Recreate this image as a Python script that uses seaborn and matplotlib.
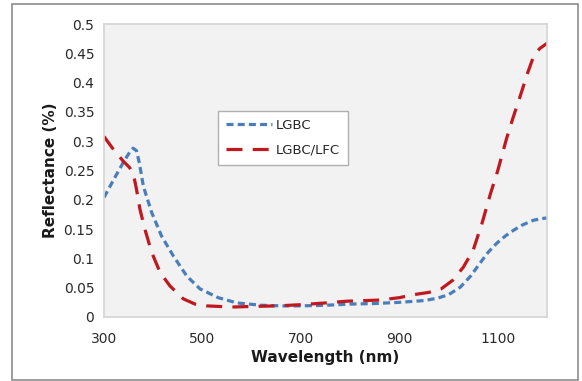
import matplotlib
matplotlib.use("Agg")
import matplotlib.pyplot as plt
import seaborn as sns
import pandas as pd
from matplotlib.patches import Rectangle

lgbc_wl = [300, 320, 340, 352, 359, 366, 372, 380, 397, 417, 441, 468, 495, 532, 570,
           620, 660, 700, 750, 800, 850, 900, 950, 977, 1000, 1024, 1045, 1064,
           1080, 1098, 1115, 1132, 1150, 1172, 1190, 1200]
lgbc_val = [0.204, 0.235, 0.265, 0.281, 0.288, 0.284, 0.262, 0.223, 0.178, 0.138,
            0.104, 0.070, 0.048, 0.033, 0.024, 0.02, 0.019, 0.019, 0.02, 0.022,
            0.023, 0.025, 0.028, 0.032, 0.038, 0.051, 0.07, 0.092, 0.11, 0.126,
            0.138, 0.148, 0.157, 0.165, 0.168, 0.169]

lfc_wl = [300, 320, 339, 352, 360, 366, 373, 383, 397, 414, 434, 461, 485, 508,
          560, 600, 653, 700, 750, 794, 830, 861, 900, 928, 960, 985, 1009, 1030,
          1050, 1068, 1085, 1100, 1118, 1131, 1146, 1160, 1172, 1185, 1200]
lfc_val = [0.308, 0.285, 0.266, 0.255, 0.243, 0.218, 0.184, 0.150, 0.110, 0.076,
           0.053, 0.031, 0.022, 0.019, 0.017, 0.018, 0.019, 0.021, 0.024, 0.027,
           0.028, 0.029, 0.033, 0.038, 0.042, 0.048, 0.063, 0.085, 0.114, 0.16,
           0.21, 0.25, 0.305, 0.34, 0.378, 0.415, 0.443, 0.458, 0.467]

series_names = ["LGBC", "LGBC/LFC"]
x_ticks = [300, 500, 700, 900, 1100]
y_ticks = [0, 0.05, 0.1, 0.15, 0.2, 0.25, 0.3, 0.35, 0.4, 0.45, 0.5]

df = pd.concat([
    pd.DataFrame({"wl": lgbc_wl, "val": lgbc_val, "series": series_names[0]}),
    pd.DataFrame({"wl": lfc_wl, "val": lfc_val, "series": series_names[1]}),
], ignore_index=True)

sns.set_style("white")
plt.rcParams["font.family"] = ["DejaVu Sans"]

fig = plt.figure(figsize=(5.82, 3.81), dpi=100)
fig.patch.set_facecolor("white")
fig.add_artist(Rectangle((12 / 582, 1 - 380 / 381), 566 / 582, 376 / 381,
                         transform=fig.transFigure, fill=False,
                         edgecolor="#8c8c8c", linewidth=1.2))

ax = fig.add_axes([104 / 582, 1 - 317 / 381, 443 / 582, 293 / 381])
ax.set_facecolor("#f2f2f2")

sns.lineplot(data=df, x="wl", y="val", hue="series", style="series",
             palette={"LGBC": "#4a7ebb", "LGBC/LFC": "#c0181e"},
             dashes={"LGBC": (2.2, 1.3), "LGBC/LFC": (5, 3.2)},
             linewidth=2.3, ax=ax, sort=True)

ax.set_xlim(300, 1200)
ax.set_ylim(0, 0.5)
ax.set_xticks(x_ticks)
ax.set_yticks(y_ticks)
ax.set_yticklabels([f"{v:g}" for v in y_ticks])
ax.set_xticklabels([str(v) for v in x_ticks])
ax.tick_params(axis="both", labelsize=10, colors="#d0d0d0", labelcolor="#2a2a2a",
               length=4, width=1, direction="out", pad=3)
ax.tick_params(axis="x", pad=7)
for s in ax.spines.values():
    s.set_color("#d4d4d4")
    s.set_linewidth(1.2)

ax.set_xlabel("Wavelength (nm)", fontsize=11, fontweight="bold", color="#1a1a1a", labelpad=3)
ax.set_ylabel("Reflectance (%)", fontsize=11, fontweight="bold", color="#1a1a1a", labelpad=4)

leg = ax.legend(loc="upper left", bbox_to_anchor=((218 - 104) / 443, 1 - (111 - 24) / 293),
                borderaxespad=0, fontsize=9.5, handlelength=3.5, labelspacing=0.9,
                handletextpad=0.3, borderpad=0.6, fancybox=False, framealpha=1,
                edgecolor="#b0b0b0", title=None)
leg.get_frame().set_linewidth(1.0)

fig.savefig("out.png", dpi=100)
